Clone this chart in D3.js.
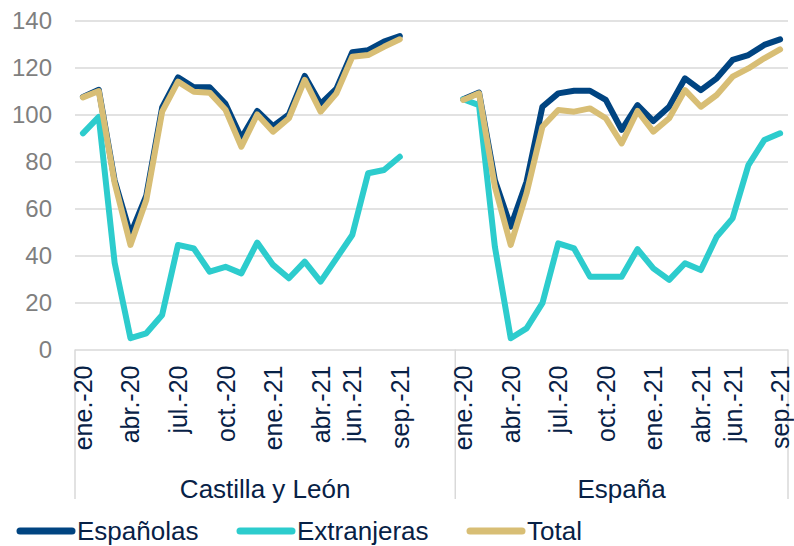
<!DOCTYPE html>
<html>
<head>
<meta charset="utf-8">
<script src="https://cdn.jsdelivr.net/npm/d3@7"></script>
<style>
  body { margin: 0; background: #fff; }
  svg { font-family: "Liberation Sans", Arial, sans-serif; }
</style>
</head>
<body>
<svg id="chart" width="794" height="546"></svg>
<script>
// months shown on each panel
const months = ['ene.-20','feb.-20','mar.-20','abr.-20','may.-20','jun.-20','jul.-20','ago.-20','sep.-20','oct.-20','nov.-20','dic.-20',
  'ene.-21','feb.-21','mar.-21','abr.-21','may.-21','jun.-21','jul.-21','ago.-21','sep.-21'];
const tickMonths = ['ene.-20','abr.-20','jul.-20','oct.-20','ene.-21','abr.-21','jun.-21','sep.-21'];
const regions = ['Castilla y León', 'España'];
const seriesNames = ['Españolas', 'Extranjeras', 'Total'];
const yTicks = [0, 20, 40, 60, 80, 100, 120, 140];

const cylEspanolas = [107.5,110.5,72,49,65.5,103,115.8,111.6,111.6,104.5,90,101.5,95,100,116.4,104.5,111,126.5,127.4,131,133.4];
const cylExtranjeras = [92,99,37,4.8,6.9,14.7,44.5,43,33.1,35.2,32.4,45.5,36,30.3,37.4,28.9,38.8,48.7,75,76.4,82];
const cylTotal = [107.3,110,71,44.5,63.6,101.2,114,109.7,109.3,102,86.3,100,92.7,98.4,114.7,101.2,109,124.6,125.3,128.8,132];

const espEspanolas = [106.5,109.3,72,52.3,71.4,103.3,109,110.1,110.1,106.2,93.5,104,97.2,103.3,115.4,110.4,115.4,123.2,125.3,129.6,132];
const espExtranjeras = [106.5,104,43.7,4.8,9,19.7,45.2,43,31,31,31,42.7,34.5,29.6,36.7,33.8,48,55.8,78.5,89.1,92];
const espTotal = [106.2,109,69.3,44.5,66.5,94.8,101.9,101.2,102.6,98.4,87.7,101.5,92.7,98.4,110.4,103.3,108.3,116.1,119.6,123.9,127.7];

const colors = {'Españolas': '#004481', 'Extranjeras': '#2dcccd', 'Total': '#d8be75'};
const textColor = '#072146';

const svg = d3.select('#chart');
const plotLeft = 75, plotRight = 788, plotTop = 20.5, plotBottom = 349.5, catBottom = 499;

// slots: castilla months, 3 empty slots, españa months
const slots = [];
months.forEach(m => slots.push(regions[0] + '|' + m));
['pad1','pad2','pad3'].forEach(p => slots.push(regions[0] + '|' + p));
months.forEach(m => slots.push(regions[1] + '|' + m));

const x = d3.scaleBand().domain(slots).range([plotLeft, plotRight]).padding(0);
const xc = k => x(k) + x.bandwidth() / 2;
const y = d3.scaleLinear().domain([0, 140]).range([plotBottom, plotTop]);

// y axis + gridlines
const yAxis = svg.append('g')
  .attr('transform', `translate(${plotLeft},0)`)
  .call(d3.axisLeft(y).tickValues(yTicks).tickSize(-(plotRight - plotLeft)).tickPadding(23));
yAxis.select('.domain').remove();
yAxis.selectAll('line').attr('stroke', '#d9d9d9').attr('stroke-width', 1.5);
yAxis.selectAll('text').attr('fill', '#7f7f7f').style('font-size', '24px')
  .style('font-family', '"Liberation Sans", Arial, sans-serif');

// category separators
const sepX = [plotLeft, x(regions[1] + '|' + months[0]), plotRight];
svg.selectAll('.sep').data(sepX).enter().append('line')
  .attr('class', 'sep')
  .attr('x1', d => d).attr('x2', d => d)
  .attr('y1', plotBottom).attr('y2', catBottom)
  .attr('stroke', '#d9d9d9').attr('stroke-width', 1.5);

// x axis month labels per region
regions.forEach(r => {
  const g = svg.append('g')
    .attr('transform', `translate(0,${plotBottom})`)
    .call(d3.axisBottom(x).tickValues(tickMonths.map(m => r + '|' + m))
      .tickSize(0).tickFormat(d => d.split('|')[1]));
  g.select('.domain').remove();
  g.selectAll('text')
    .attr('fill', textColor)
    .style('font-size', '25px')
    .style('font-family', '"Liberation Sans", Arial, sans-serif')
    .attr('transform', 'rotate(-90)')
    .attr('text-anchor', 'end')
    .attr('x', -16)
    .attr('y', 0)
    .attr('dy', '0.36em');
});

// region labels
regions.forEach((r, i) => {
  svg.append('text')
    .attr('x', (sepX[i] + sepX[i + 1]) / 2)
    .attr('y', 498)
    .attr('text-anchor', 'middle')
    .attr('fill', textColor)
    .style('font-size', '26px')
    .text(r);
});

// lines
const data = [
  {region: regions[0], name: 'Españolas', values: cylEspanolas},
  {region: regions[0], name: 'Extranjeras', values: cylExtranjeras},
  {region: regions[0], name: 'Total', values: cylTotal},
  {region: regions[1], name: 'Españolas', values: espEspanolas},
  {region: regions[1], name: 'Extranjeras', values: espExtranjeras},
  {region: regions[1], name: 'Total', values: espTotal}
];

const line = d3.line()
  .x(d => xc(d.key))
  .y(d => y(d.v));

svg.selectAll('.series').data(data).enter().append('path')
  .attr('class', 'series')
  .attr('fill', 'none')
  .attr('stroke', d => colors[d.name])
  .attr('stroke-width', 6)
  .attr('stroke-linejoin', 'round')
  .attr('stroke-linecap', 'round')
  .attr('d', d => line(d.values.map((v, i) => ({key: d.region + '|' + months[i], v: v}))));

// legend
const legendX = [17, 237, 467];
const lg = svg.selectAll('.legend').data(seriesNames).enter().append('g')
  .attr('class', 'legend')
  .attr('transform', (d, i) => `translate(${legendX[i]},531)`);
lg.append('line')
  .attr('x1', 3).attr('x2', 55)
  .attr('stroke', d => colors[d])
  .attr('stroke-width', 7)
  .attr('stroke-linecap', 'round');
lg.append('text')
  .attr('x', 60)
  .attr('dy', '0.36em')
  .attr('fill', textColor)
  .style('font-size', '26px')
  .text(d => d);
</script>
</body>
</html>
